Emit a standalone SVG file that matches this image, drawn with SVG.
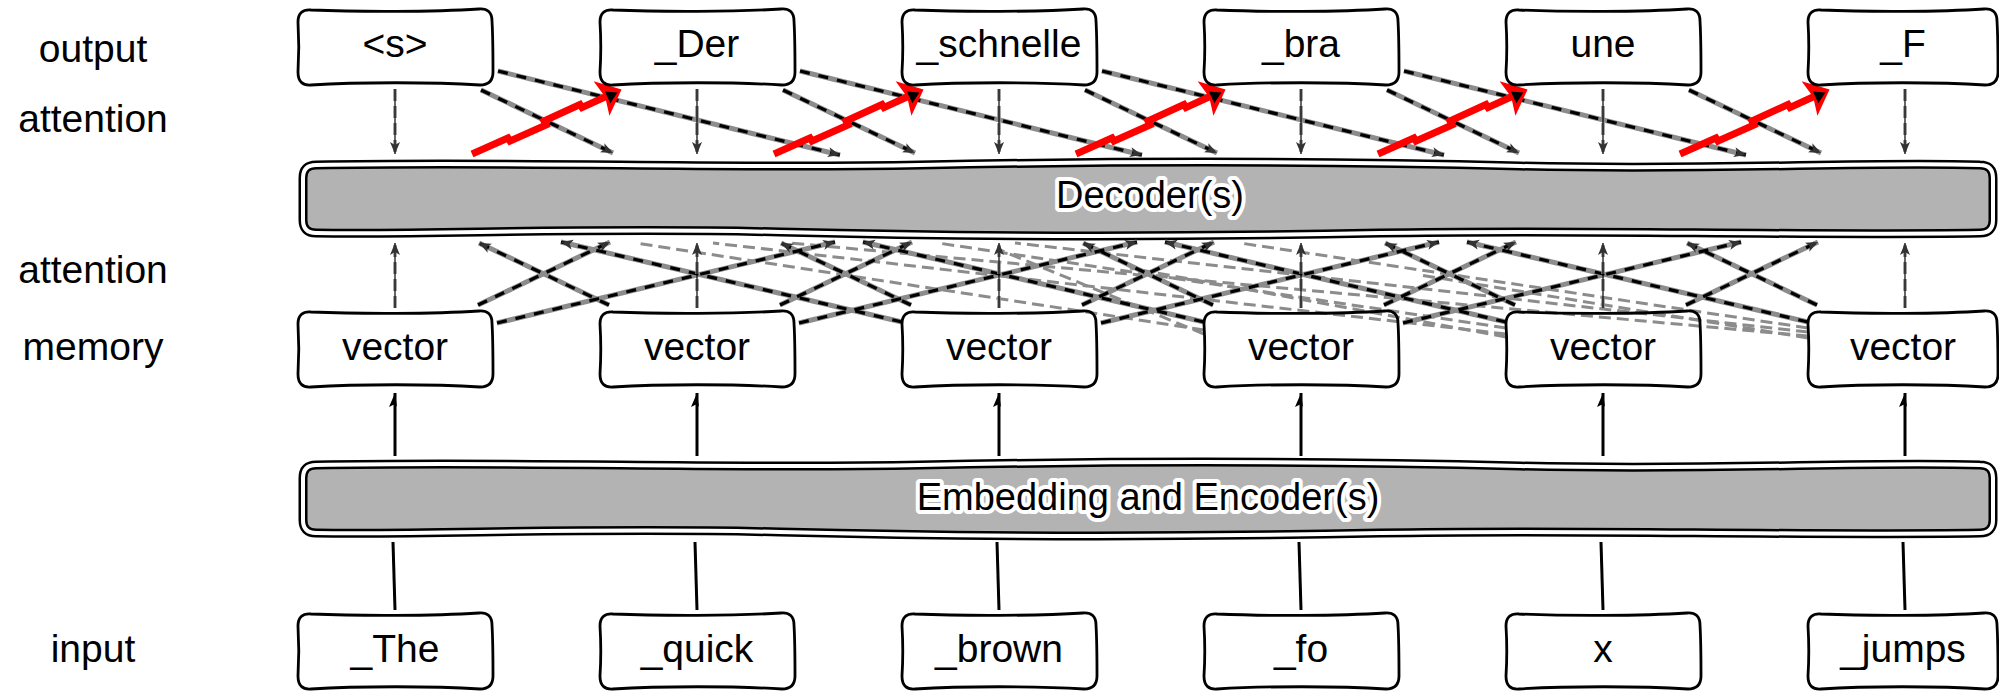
<svg xmlns="http://www.w3.org/2000/svg" width="1999" height="692" viewBox="0 0 1999 692">
<style>
.t{font-family:"Liberation Sans",Arial,sans-serif;font-size:39px;text-anchor:middle;fill:#000}
.bt{font-family:"Liberation Sans",Arial,sans-serif;font-size:38px;text-anchor:middle;fill:#000;stroke:#fff;stroke-width:8;stroke-linejoin:round;paint-order:stroke}
.box{fill:none;stroke:#000;stroke-width:2.8}
.barO{fill:#b3b3b3;stroke:#000;stroke-width:9}
.barI{fill:none;stroke:#fff;stroke-width:4}
.u{fill:none;stroke:#8c8c8c;stroke-width:5}
.o{fill:none;stroke:#000;stroke-width:3.2;stroke-dasharray:10 9;marker-end:url(#ah)}
.vu{fill:none;stroke:#8c8c8c;stroke-width:3.5;stroke-dasharray:12 5}
.vo{fill:none;stroke:#000;stroke-width:1.2;marker-end:url(#ah)}
.f{fill:none;stroke:#8c8c8c;stroke-width:3;stroke-dasharray:12 6}
.r{fill:none;stroke:#ff0000;stroke-width:7;stroke-linejoin:miter;marker-end:url(#ahr)}
.e{fill:none;stroke:#000;stroke-width:3;marker-end:url(#ahe)}
.n{fill:none;stroke:#000;stroke-width:3}
</style>
<defs>
<marker id="ah" markerUnits="userSpaceOnUse" markerWidth="16" markerHeight="12" viewBox="-14 -6 16 12" refX="0" refY="0" orient="auto">
<path d="M0,0 L-12,-5 L-9,0 L-12,5 Z" fill="#333"/>
</marker>
<marker id="ahe" markerUnits="userSpaceOnUse" markerWidth="18" markerHeight="14" viewBox="-16 -7 18 14" refX="0" refY="0" orient="auto">
<path d="M0,0 L-14,-6 L-11,0 L-14,2 Z" fill="#000"/>
</marker>
<marker id="ahr" markerUnits="userSpaceOnUse" markerWidth="30" markerHeight="44" viewBox="-24 -22 30 44" refX="0" refY="0" orient="auto">
<path d="M5,0 L-17,-19 L-13,0 L-17,19 Z" fill="#ff0000"/>
<path d="M0,1 L-11,-5 L-11,8 Z" fill="#000"/>
</marker>
<path id="box" d="M13,2 C60,4 135,4 181,1 Q194,0 194,13 C195,30 195,48 195,64 Q195,77 182,77 C135,74 60,74 13,77 Q0,78 0,64 C1,48 1,30 0,14 Q0,1 13,2 Z"/>
<path id="boxL" d="M13,2 C58,4 131,4 176,1 Q189,0 189,13 C190,30 190,48 190,64 Q190,77 177,77 C131,74 58,74 13,77 Q0,78 0,64 C1,48 1,30 0,14 Q0,1 13,2 Z"/>
<path id="bar" d="M316,165 C520,161 720,169 920,165 S1320,161 1520,166 S1860,161 1980,165 Q1993,165 1993,178 L1993,220 Q1993,233 1980,233 C1780,236 1580,229 1380,233 S980,237 780,232 S440,235 316,233 Q303,233 303,220 L303,178 Q303,165 316,165 Z"/>
</defs>
<rect width="1999" height="692" fill="#fff"/>

<g id="row-labels">
<text x="93" y="62" class="t">output</text>
<text x="93" y="132" class="t">attention</text>
<text x="93" y="283" class="t">attention</text>
<text x="93" y="360" class="t">memory</text>
<text x="93" y="662" class="t">input</text>
</g>

<g id="decoder">
<use href="#bar" class="barO"/>
<use href="#bar" class="barI"/>
<text x="1150" y="208" class="bt">Decoder(s)</text>
</g>
<g id="encoder">
<use href="#bar" y="300" class="barO"/>
<use href="#bar" y="300" class="barI"/>
<text x="1148" y="510" class="bt">Embedding and Encoder(s)</text>
</g>

<g id="connectors">
<g class="f">
<path d="M1204,330 L636,243"/>
<path d="M1506,328 L938,243"/>
<path d="M1506,334 L713,243"/>
<path d="M1808,328 L1240,243"/>
<path d="M1808,332 L1015,243"/>
<path d="M1808,336 L790,243"/>
<path d="M1204,334 L1000,250"/>
<path d="M1506,337 L1130,268"/>
<path d="M1808,338 L1420,275"/>
</g>
<g class="u">
<path d="M481,90 L613,153"/>
<path d="M783,90 L915,153"/>
<path d="M1085,90 L1217,153"/>
<path d="M1387,90 L1519,153"/>
<path d="M1689,90 L1821,153"/>
<path d="M498,71 L840,155"/>
<path d="M800,71 L1142,155"/>
<path d="M1102,71 L1444,155"/>
<path d="M1404,71 L1746,155"/>
<path d="M478,305 L610,242"/>
<path d="M780,305 L912,242"/>
<path d="M1082,305 L1214,242"/>
<path d="M1384,305 L1516,242"/>
<path d="M1686,305 L1818,242"/>
<path d="M497,323 L835,242"/>
<path d="M799,323 L1137,242"/>
<path d="M1101,323 L1439,242"/>
<path d="M1403,323 L1741,242"/>
<path d="M609,305 L479,243"/>
<path d="M911,305 L781,243"/>
<path d="M1213,305 L1083,243"/>
<path d="M1515,305 L1385,243"/>
<path d="M1817,305 L1687,243"/>
<path d="M902,322 L561,242"/>
<path d="M1204,322 L863,242"/>
<path d="M1506,322 L1165,242"/>
<path d="M1808,322 L1467,242"/>
</g>
<g class="o">
<path d="M481,90 L613,153"/>
<path d="M783,90 L915,153"/>
<path d="M1085,90 L1217,153"/>
<path d="M1387,90 L1519,153"/>
<path d="M1689,90 L1821,153"/>
<path d="M498,71 L840,155"/>
<path d="M800,71 L1142,155"/>
<path d="M1102,71 L1444,155"/>
<path d="M1404,71 L1746,155"/>
<path d="M478,305 L610,242"/>
<path d="M780,305 L912,242"/>
<path d="M1082,305 L1214,242"/>
<path d="M1384,305 L1516,242"/>
<path d="M1686,305 L1818,242"/>
<path d="M497,323 L835,242"/>
<path d="M799,323 L1137,242"/>
<path d="M1101,323 L1439,242"/>
<path d="M1403,323 L1741,242"/>
<path d="M609,305 L479,243"/>
<path d="M911,305 L781,243"/>
<path d="M1213,305 L1083,243"/>
<path d="M1515,305 L1385,243"/>
<path d="M1817,305 L1687,243"/>
<path d="M902,322 L561,242"/>
<path d="M1204,322 L863,242"/>
<path d="M1506,322 L1165,242"/>
<path d="M1808,322 L1467,242"/>
</g>
<g class="vu">
<path d="M395,89 L395,154"/>
<path d="M697,89 L697,154"/>
<path d="M999,89 L999,154"/>
<path d="M1301,89 L1301,154"/>
<path d="M1603,89 L1603,154"/>
<path d="M1905,89 L1905,154"/>
<path d="M395,308 L395,243"/>
<path d="M697,308 L697,243"/>
<path d="M999,308 L999,243"/>
<path d="M1301,308 L1301,243"/>
<path d="M1603,308 L1603,243"/>
<path d="M1905,308 L1905,243"/>
</g>
<g class="vo">
<path d="M395,89 L395,154"/>
<path d="M697,89 L697,154"/>
<path d="M999,89 L999,154"/>
<path d="M1301,89 L1301,154"/>
<path d="M1603,89 L1603,154"/>
<path d="M1905,89 L1905,154"/>
<path d="M395,308 L395,243"/>
<path d="M697,308 L697,243"/>
<path d="M999,308 L999,243"/>
<path d="M1301,308 L1301,243"/>
<path d="M1603,308 L1603,243"/>
<path d="M1905,308 L1905,243"/>
</g>
<g class="r">
<path d="M472,154 l36,-16 l2,3 l36,-16 l-2,-4 l36,-16.5 l2,3 l35,-16"/>
<path d="M774,154 l36,-16 l2,3 l36,-16 l-2,-4 l36,-16.5 l2,3 l35,-16"/>
<path d="M1076,154 l36,-16 l2,3 l36,-16 l-2,-4 l36,-16.5 l2,3 l35,-16"/>
<path d="M1378,154 l36,-16 l2,3 l36,-16 l-2,-4 l36,-16.5 l2,3 l35,-16"/>
<path d="M1680,154 l36,-16 l2,3 l36,-16 l-2,-4 l36,-16.5 l2,3 l35,-16"/>
</g>
<g class="e">
<path d="M395,456 L395,393"/>
<path d="M697,456 L697,393"/>
<path d="M999,456 L999,393"/>
<path d="M1301,456 L1301,393"/>
<path d="M1603,456 L1603,393"/>
<path d="M1905,456 L1905,393"/>
</g>
<g class="n">
<path d="M393,542 L395,610"/>
<path d="M695,542 L697,610"/>
<path d="M997,542 L999,610"/>
<path d="M1299,542 L1301,610"/>
<path d="M1601,542 L1603,610"/>
<path d="M1903,542 L1905,610"/>
</g>
</g>

<g id="out0"><use href="#box" x="298" y="8" class="box"/><text x="395" y="57" class="t">&lt;s&gt;</text></g>
<g id="out1"><use href="#box" x="600" y="8" class="box"/><text x="697" y="57" class="t">_Der</text></g>
<g id="out2"><use href="#box" x="902" y="8" class="box"/><text x="999" y="57" class="t">_schnelle</text></g>
<g id="out3"><use href="#box" x="1204" y="8" class="box"/><text x="1301" y="57" class="t">_bra</text></g>
<g id="out4"><use href="#box" x="1506" y="8" class="box"/><text x="1603" y="57" class="t">une</text></g>
<g id="out5"><use href="#boxL" x="1808" y="8" class="box"/><text x="1903" y="57" class="t">_F</text></g>

<g id="mem0"><use href="#box" x="298" y="310" class="box"/><text x="395" y="360" class="t">vector</text></g>
<g id="mem1"><use href="#box" x="600" y="310" class="box"/><text x="697" y="360" class="t">vector</text></g>
<g id="mem2"><use href="#box" x="902" y="310" class="box"/><text x="999" y="360" class="t">vector</text></g>
<g id="mem3"><use href="#box" x="1204" y="310" class="box"/><text x="1301" y="360" class="t">vector</text></g>
<g id="mem4"><use href="#box" x="1506" y="310" class="box"/><text x="1603" y="360" class="t">vector</text></g>
<g id="mem5"><use href="#boxL" x="1808" y="310" class="box"/><text x="1903" y="360" class="t">vector</text></g>

<g id="in0"><use href="#box" x="298" y="612" class="box"/><text x="395" y="662" class="t">_The</text></g>
<g id="in1"><use href="#box" x="600" y="612" class="box"/><text x="697" y="662" class="t">_quick</text></g>
<g id="in2"><use href="#box" x="902" y="612" class="box"/><text x="999" y="662" class="t">_brown</text></g>
<g id="in3"><use href="#box" x="1204" y="612" class="box"/><text x="1301" y="662" class="t">_fo</text></g>
<g id="in4"><use href="#box" x="1506" y="612" class="box"/><text x="1603" y="662" class="t">x</text></g>
<g id="in5"><use href="#boxL" x="1808" y="612" class="box"/><text x="1903" y="662" class="t">_jumps</text></g>
</svg>
